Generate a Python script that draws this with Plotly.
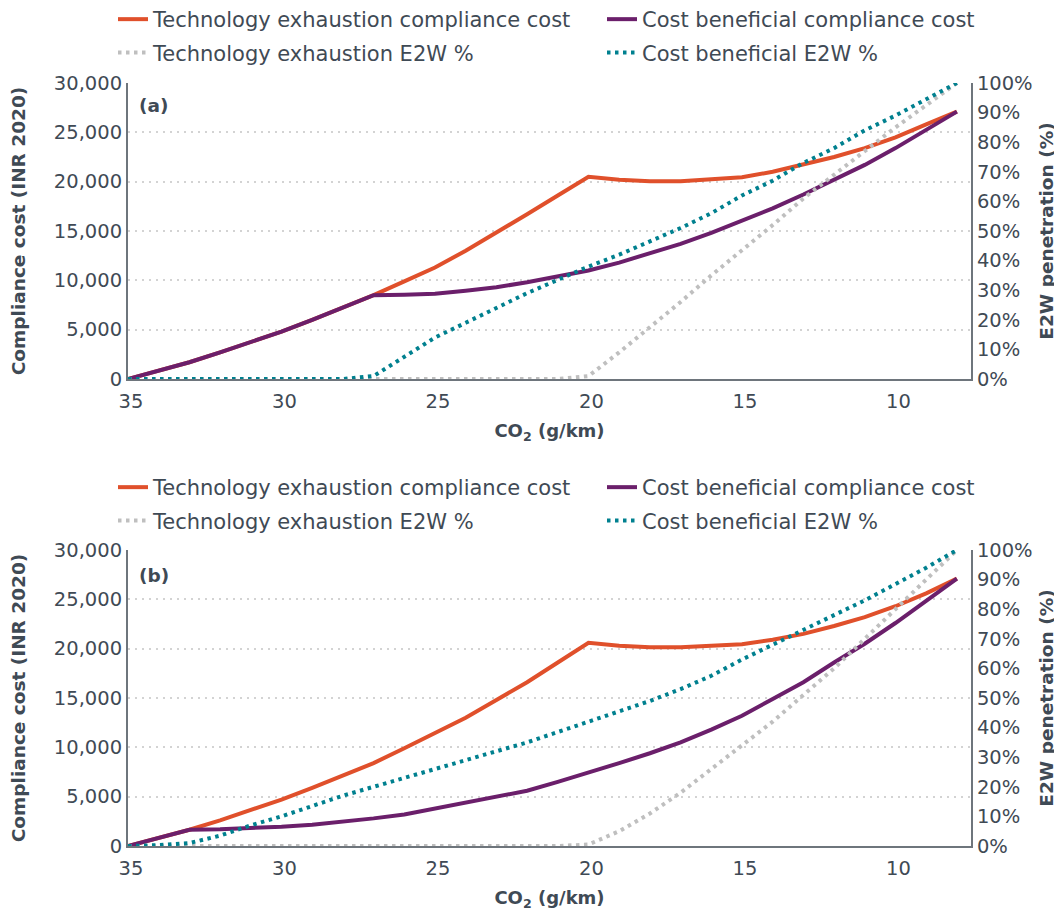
import plotly.graph_objects as go
from plotly.subplots import make_subplots

co2 = [35, 34, 33, 32, 31, 30, 29, 28, 27, 26, 25, 24, 23, 22, 21, 20,
       19, 18, 17, 16, 15, 14, 13, 12, 11, 10, 9, 8]

# Panel (a)
a_tech_cost = [0, 800, 1700, 2700, 3700, 4800, 6000, 7200, 8500, 9900, 11300, 13000, 14800, 16700,
               18600, 20500, 20200, 20050, 20050, 20200, 20450, 21000, 21700, 22500, 23400, 24500, 25800, 27100]
a_cb_cost = [0, 800, 1700, 2700, 3700, 4800, 6000, 7200, 8500, 8550, 8650, 8950, 9300, 9800,
             10400, 11000, 11800, 12700, 13700, 14800, 16000, 17300, 18700, 20200, 21700, 23400, 25200, 27100]
a_tech_e2w = [0, 0, 0, 0, 0, 0, 0, 0, 0, 0, 0, 0, 0, 0, 0, 1,
              9, 17.5, 26, 35, 43.5, 52, 61, 69, 77, 85, 92.5, 100]
a_cb_e2w = [0, 0, 0, 0, 0, 0, 0, 0, 1, 7.5, 14, 19, 24, 29, 33.5, 38,
            42, 46.5, 51, 56, 62, 67, 73, 78, 84, 89, 94.5, 100]

# Panel (b)
b_tech_cost = [0, 800, 1650, 2600, 3600, 4700, 5900, 7100, 8400, 9900, 11400, 13000, 14800, 16600,
               18600, 20600, 20300, 20150, 20150, 20250, 20450, 20900, 21500, 22300, 23200, 24300, 25600, 27100]
b_cb_cost = [0, 800, 1650, 1700, 1800, 1950, 2150, 2450, 2800, 3200, 3800, 4300, 4900, 5600,
             6500, 7400, 8400, 9400, 10500, 11800, 13200, 14900, 16600, 18600, 20500, 22600, 24800, 27100]
b_tech_e2w = [0, 0, 0, 0, 0, 0, 0, 0, 0, 0, 0, 0, 0, 0, 0, 0.5,
              5, 11, 18, 26, 34, 42, 51, 60, 70, 80, 90, 100]
b_cb_e2w = [0, 0.3, 1, 3.5, 7, 10, 13.5, 17, 20, 23, 26, 29, 32, 35, 38.5, 42,
            45.5, 49, 53, 57.5, 63, 68, 73, 78, 83, 88.5, 94, 100]

names = ["Technology exhaustion compliance cost", "Cost beneficial compliance cost",
         "Technology exhaustion E2W %", "Cost beneficial E2W %"]
x_ticks = [35, 30, 25, 20, 15, 10]
cost_ticks = [0, 5000, 10000, 15000, 20000, 25000, 30000]
pct_ticks = list(range(0, 101, 10))
pct_labels = [f"{v}%" for v in pct_ticks]

ORANGE = "#E0502B"
PURPLE = "#6B1F6B"
GRAY = "#BFBFBF"
TEAL = "#00808F"
TEXT = "#3F4A55"
AXIS = "#6E757C"
FONT = "DejaVu Sans"

# the page body adds an 8px margin, so the figure is 8px smaller than the window
OFF = 8
W, H = 1062 - OFF, 915 - OFF
L, R = 128 - OFF, 971 - OFF   # plot area edges in figure pixels


def px_x(px):   # px given in window coordinates
    return (px - OFF - L) / (R - L)


def py(px):     # px given in window coordinates
    return 1 - (px - OFF) / H


fig = make_subplots(rows=2, cols=1, specs=[[{"secondary_y": True}], [{"secondary_y": True}]])

DOT = "3.5px,4.5px"
panels = [(a_tech_cost, a_cb_cost, a_tech_e2w, a_cb_e2w, "legend", "legend2"),
          (b_tech_cost, b_cb_cost, b_tech_e2w, b_cb_e2w, "legend3", "legend4")]
for i, (tc, cc, te, ce, lg_left, lg_right) in enumerate(panels):
    row = i + 1
    fig.add_trace(go.Scatter(x=co2, y=tc, name=names[0], mode="lines", legend=lg_left,
                             legendgroup=f"g{row}1",
                             line=dict(color=ORANGE, width=4)), row=row, col=1, secondary_y=False)
    fig.add_trace(go.Scatter(x=co2, y=cc, name=names[1], mode="lines", legend=lg_right,
                             legendgroup=f"g{row}2",
                             line=dict(color=PURPLE, width=4)), row=row, col=1, secondary_y=False)
    fig.add_trace(go.Scatter(x=co2, y=te, name=names[2], mode="lines", legend=lg_left,
                             legendgroup=f"g{row}3",
                             line=dict(color=GRAY, width=4, dash=DOT)), row=row, col=1, secondary_y=True)
    fig.add_trace(go.Scatter(x=co2, y=ce, name=names[3], mode="lines", legend=lg_right,
                             legendgroup=f"g{row}4",
                             line=dict(color=TEAL, width=4, dash=DOT)), row=row, col=1, secondary_y=True)

dom_a = [py(379), py(83)]
dom_b = [py(846), py(550)]

axis_common = dict(showline=True, linecolor=AXIS, linewidth=2, ticks="", zeroline=False, automargin=False,
                   tickfont=dict(family=FONT, size=19.5, color=TEXT))
xcommon = dict(axis_common, range=[35, 7.54], tickvals=x_ticks, showgrid=False,
               ticklabelstandoff=4, ticklabelshift=-3,
               title=dict(text="<b>CO<sub>2</sub> (g/km)</b>", font=dict(family=FONT, size=18, color=TEXT),
                          standoff=12))
fig.update_layout(
    xaxis=dict(xcommon, domain=[0, 1], anchor="y"),
    xaxis2=dict(xcommon, domain=[0, 1], anchor="y3"),
)
ycost = dict(axis_common, range=[0, 30000], tickvals=cost_ticks, tickformat=",", showgrid=True,
             gridcolor="#D3D3D3", griddash="2px,5px", gridwidth=1.5,
             title=dict(text="<b>Compliance cost (INR 2020)</b>", font=dict(family=FONT, size=18.5, color=TEXT),
                        standoff=26))
ypct = dict(axis_common, range=[0, 100], tickvals=pct_ticks, ticktext=pct_labels, showgrid=False,
            title=dict(text="<b>E2W penetration (%)</b>", font=dict(family=FONT, size=18.5, color=TEXT),
                       standoff=8))
fig.update_layout(
    yaxis=dict(ycost, domain=dom_a),
    yaxis2=dict(ypct, domain=dom_a, overlaying="y", side="right"),
    yaxis3=dict(ycost, domain=dom_b),
    yaxis4=dict(ypct, domain=dom_b, overlaying="y3", side="right"),
)

legend_common = dict(orientation="v", xanchor="left", yanchor="top", traceorder="grouped",
                     font=dict(family=FONT, size=21, color=TEXT), bgcolor="rgba(0,0,0,0)",
                     tracegroupgap=3, itemwidth=30)
fig.update_layout(
    legend=dict(legend_common, x=px_x(113), y=py(-1)),
    legend2=dict(legend_common, x=px_x(602), y=py(-1)),
    legend3=dict(legend_common, x=px_x(113), y=py(467)),
    legend4=dict(legend_common, x=px_x(602), y=py(467)),
)

fig.add_annotation(text="<b>(a)</b>", xref="paper", yref="paper", x=px_x(137), y=py(106),
                   xanchor="left", yanchor="middle", showarrow=False, font=dict(family=FONT, size=18.5, color=TEXT))
fig.add_annotation(text="<b>(b)</b>", xref="paper", yref="paper", x=px_x(137), y=py(575),
                   xanchor="left", yanchor="middle", showarrow=False, font=dict(family=FONT, size=18.5, color=TEXT))

fig.update_layout(width=W, height=H, margin=dict(l=L, r=W - R, t=0, b=0, autoexpand=False),
                  plot_bgcolor="white", paper_bgcolor="white",
                  font=dict(family=FONT, color=TEXT))

fig.write_html("out.html")
